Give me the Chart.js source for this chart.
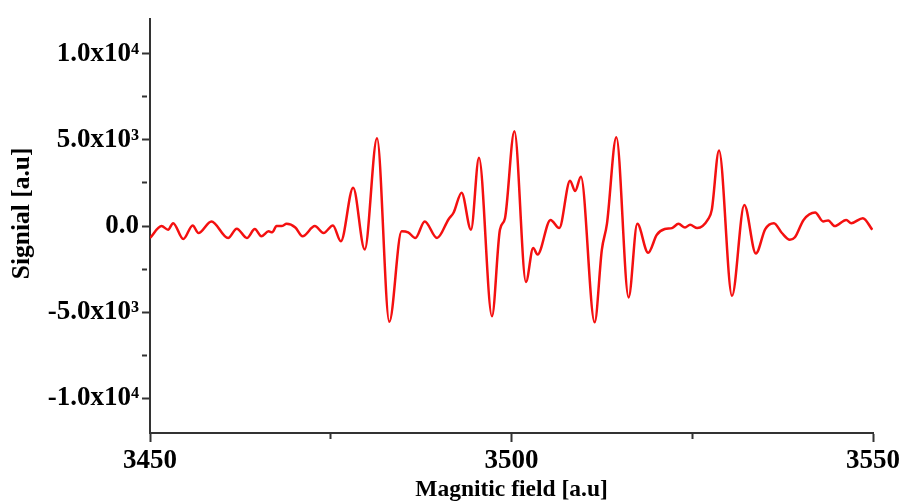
<!DOCTYPE html>
<html>
<head>
<meta charset="utf-8">
<script src="https://cdn.jsdelivr.net/npm/chart.js@4/dist/chart.umd.min.js"></script>
<style>
  html, body { margin: 0; padding: 0; background: #fff; }
  #wrap { width: 900px; height: 502px; }
</style>
</head>
<body>
<div id="wrap"><canvas id="grafico"></canvas></div>
<script>
const fieldValues = [
  3450.0, 3451.6, 3452.5, 3453.2, 3454.6, 3455.9, 3456.7, 3458.5, 3460.8, 3462.0,
  3463.4, 3464.5, 3465.4, 3466.4, 3466.9, 3467.5, 3468.2, 3468.9, 3470.1, 3471.1,
  3472.8, 3474.0, 3475.3, 3476.4, 3478.1, 3479.7, 3481.4, 3483.1, 3484.8, 3485.7,
  3486.7, 3488.0, 3489.7, 3491.3, 3492.0, 3493.1, 3494.4, 3495.5, 3497.3, 3498.4,
  3499.1, 3500.4, 3502.0, 3503.0, 3503.6, 3505.4, 3506.6, 3508.1, 3508.8, 3509.6,
  3511.5, 3512.5, 3513.2, 3514.5, 3516.2, 3517.4, 3518.9, 3520.1, 3521.2, 3522.2,
  3523.1, 3524.0, 3524.7, 3525.7, 3527.2, 3527.7, 3528.7, 3530.5, 3532.2, 3533.8,
  3535.1, 3536.3, 3537.4, 3538.5, 3539.2, 3540.4, 3542.0, 3543.1, 3543.8, 3544.7,
  3546.3, 3547.0, 3548.6, 3549.9
];
const signalValues = [
  -690, 0, -210, 170, -750, 40, -400, 270, -690, -150,
  -690, -170, -590, -300, -360, 0, 0, 130, -80, -590,
  0, -400, 40, -880, 2225, -1360, 5100, -5550, -300, -360,
  -690, 270, -690, 400, 790, 1940, -210, 3970, -5230, -210,
  460, 5500, -3240, -1265, -1650, 360, -115, 2630, 2030, 2860,
  -5580, -1360, 130, 5160, -4140, 130, -1550, -500, -170, -115,
  130, -80, 75, -115, 400, 940, 4390, -4045, 1225, -1590,
  -170, 170, -400, -790, -650, 360, 790, 270, 330, 0,
  360, 170, 460, -210
];
const xTickLabels = [3450, 3500, 3550];
const yTickLabels = [-10000, -5000, 0, 5000, 10000];

const sup = { "0": "\u2070", "1": "\u00b9", "2": "\u00b2", "3": "\u00b3", "4": "\u2074", "5": "\u2075" };
function sciLabel(v) {
  if (v === 0) return "0.0";
  const e = Math.floor(Math.log10(Math.abs(v)));
  const m = (v / Math.pow(10, e)).toFixed(1);
  return m + "x10" + String(e).split("").map((c) => sup[c]).join("");
}

const serif = "'Liberation Serif', 'Times New Roman', serif";
const axisColor = "#333";

// minor ticks: shorter marks via a dash pattern
const minorDash = (labels) => (ctx) =>
  ctx.tick && !labels.includes(ctx.tick.value) ? [5, 60] : [];

new Chart(document.getElementById("grafico"), {
  type: "line",
  data: {
    datasets: [
      {
        data: fieldValues.map((x, i) => ({ x: x, y: signalValues[i] })),
        borderColor: "#f41010",
        borderWidth: 2.5,
        pointRadius: 0,
        cubicInterpolationMode: "monotone",
        fill: false,
      },
    ],
  },
  options: {
    responsive: true,
    maintainAspectRatio: false,
    animation: false,
    layout: { padding: { top: 14, right: 27, left: 0, bottom: 0 } },
    plugins: { legend: { display: false }, tooltip: { enabled: false } },
    scales: {
      x: {
        type: "linear",
        min: 3450,
        max: 3550,
        afterBuildTicks: (axis) => {
          axis.ticks = [];
          for (let v = 3450; v <= 3550; v += 25) axis.ticks.push({ value: v });
        },
        afterFit: (scale) => {
          scale.height = 69;
          scale.paddingLeft = 0;
          scale.paddingRight = 0;
        },
        grid: {
          drawOnChartArea: false,
          tickLength: 9,
          tickColor: axisColor,
          tickWidth: 2,
          tickBorderDash: minorDash(xTickLabels),
        },
        border: { color: axisColor, width: 2 },
        ticks: {
          padding: 3,
          maxRotation: 0,
          color: "#000",
          font: { family: serif, size: 27, weight: "bold" },
          callback: (v) => (xTickLabels.includes(v) ? String(v) : ""),
        },
        title: {
          display: true,
          text: "Magnitic field [a.u]",
          color: "#000",
          padding: { top: 0, bottom: 0 },
          font: { family: serif, size: 23.5, weight: "bold", lineHeight: 1 },
        },
      },
      y: {
        min: -12000,
        max: 12000,
        afterBuildTicks: (axis) => {
          axis.ticks = [];
          for (let v = -10000; v <= 10000; v += 2500) axis.ticks.push({ value: v });
        },
        afterFit: (scale) => { scale.width = 150; },
        grid: {
          drawOnChartArea: false,
          tickLength: 8,
          tickColor: axisColor,
          tickWidth: 2,
          tickBorderDash: minorDash(yTickLabels),
        },
        border: { color: axisColor, width: 2 },
        ticks: {
          padding: 3,
          color: "#000",
          font: { family: serif, size: 27, weight: "bold" },
          callback: (v) => (yTickLabels.includes(v) ? sciLabel(v) : ""),
        },
        title: {
          display: true,
          text: "\u00a0\u00a0\u00a0\u00a0Signial [a.u]",
          color: "#000",
          padding: { top: 10, bottom: 0 },
          font: { family: serif, size: 25.5, weight: "bold", lineHeight: 1 },
        },
      },
    },
  },
});
</script>
</body>
</html>
